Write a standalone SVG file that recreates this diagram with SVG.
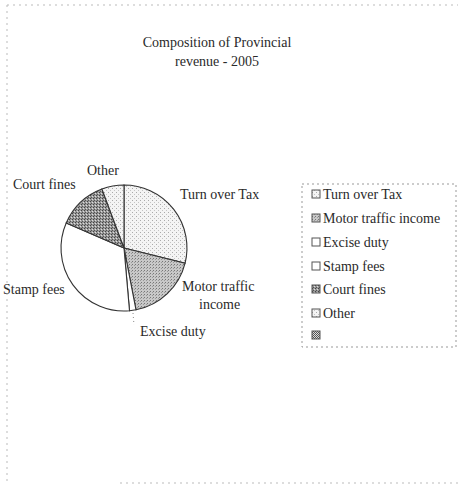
<svg xmlns="http://www.w3.org/2000/svg" width="460" height="489" viewBox="0 0 460 489">
<style>
  text { font-family: "Liberation Serif", "Times New Roman", serif; fill: #2a2a2a; }
  .title { font-size: 14px; text-anchor: middle; }
  .lbl { font-size: 14px; }
  .leg { font-size: 14px; }
  .slice { stroke: #333; stroke-width: 1.1; }
  .frame { fill: none; stroke: #bbb; stroke-width: 1; stroke-dasharray: 2 4; }
  .legframe { fill: none; stroke: #999; stroke-width: 1; stroke-dasharray: 2 3; }
  .box { stroke: #555; stroke-width: 1; }
</style>
<defs>
  <pattern id="pLight" width="4" height="4" patternUnits="userSpaceOnUse">
    <rect width="4" height="4" fill="#f4f4f4"/>
    <rect x="0" y="0" width="1" height="1" fill="#aaa"/>
    <rect x="2" y="2" width="1" height="1" fill="#c4c4c4"/>
  </pattern>
  <pattern id="pMid" width="3" height="3" patternUnits="userSpaceOnUse">
    <rect width="3" height="3" fill="#c8c8c8"/>
    <rect x="0" y="0" width="1" height="1" fill="#777"/>
    <rect x="2" y="1" width="1" height="1" fill="#999"/>
  </pattern>
  <pattern id="pDark" width="3" height="3" patternUnits="userSpaceOnUse">
    <rect width="3" height="3" fill="#999"/>
    <rect x="0" y="0" width="1" height="1" fill="#444"/>
    <rect x="1" y="2" width="1" height="1" fill="#555"/>
    <rect x="2" y="1" width="1" height="1" fill="#ddd"/>
  </pattern>
  <pattern id="pCheck" width="2" height="2" patternUnits="userSpaceOnUse">
    <rect width="2" height="2" fill="#ddd"/>
    <rect x="0" y="0" width="1" height="1" fill="#555"/>
    <rect x="1" y="1" width="1" height="1" fill="#555"/>
  </pattern>
</defs>

<g id="frame">
  <path class="frame" d="M7 5 H458 M7 5 V482 M120 483 H458"/>
</g>

<g id="title">
  <text class="title" x="217" y="47">Composition of Provincial</text>
  <text class="title" x="217" y="66">revenue - 2005</text>
</g>

<g id="pie">
  <path id="slice-turnover" class="slice" fill="url(#pLight)" d="M124 248 L124 185 A63 63 0 0 1 185.1 263.2 Z"/>
  <path id="slice-motor" class="slice" fill="url(#pMid)" d="M124 248 L185.1 263.2 A63 63 0 0 1 136.0 309.8 Z"/>
  <path id="slice-excise" class="slice" fill="#fff" d="M124 248 L136.0 309.8 A63 63 0 0 1 129.5 310.8 Z"/>
  <path id="slice-stamp" class="slice" fill="#fff" d="M124 248 L129.5 310.8 A63 63 0 0 1 66.2 223.0 Z"/>
  <path id="slice-court" class="slice" fill="url(#pDark)" d="M124 248 L66.2 223.0 A63 63 0 0 1 101.9 189.0 Z"/>
  <path id="slice-other" class="slice" fill="url(#pLight)" d="M124 248 L101.9 189.0 A63 63 0 0 1 124 185 Z"/>
</g>

<g id="connectors">
  <line x1="133" y1="313" x2="134" y2="325" stroke="#888" stroke-width="1" stroke-dasharray="1 3"/>
</g>

<g id="labels">
  <text class="lbl" x="87" y="175">Other</text>
  <text class="lbl" x="13" y="189">Court fines</text>
  <text class="lbl" x="180" y="199">Turn over Tax</text>
  <text class="lbl" x="3" y="294">Stamp fees</text>
  <text class="lbl" x="182" y="291">Motor traffic</text>
  <text class="lbl" x="199" y="309">income</text>
  <text class="lbl" x="140" y="336">Excise duty</text>
</g>

<g id="legend">
  <rect class="legframe" x="302" y="184" width="154" height="163"/>
  <g id="leg-turnover"><rect class="box" x="312" y="190" width="8" height="8" fill="url(#pLight)"/><text class="leg" x="323" y="199">Turn over Tax</text></g>
  <g id="leg-motor"><rect class="box" x="312" y="214" width="8" height="8" fill="url(#pMid)"/><text class="leg" x="323" y="223">Motor traffic income</text></g>
  <g id="leg-excise"><rect class="box" x="312" y="238" width="8" height="8" fill="#fff"/><text class="leg" x="323" y="247">Excise duty</text></g>
  <g id="leg-stamp"><rect class="box" x="312" y="262" width="8" height="8" fill="#fff"/><text class="leg" x="323" y="271">Stamp fees</text></g>
  <g id="leg-court"><rect class="box" x="312" y="285" width="8" height="8" fill="url(#pDark)"/><text class="leg" x="323" y="294">Court fines</text></g>
  <g id="leg-other"><rect class="box" x="312" y="309" width="8" height="8" fill="url(#pLight)"/><text class="leg" x="323" y="318">Other</text></g>
  <g id="leg-blank"><rect class="box" x="312" y="331" width="8" height="8" fill="url(#pCheck)"/></g>
</g>
</svg>
